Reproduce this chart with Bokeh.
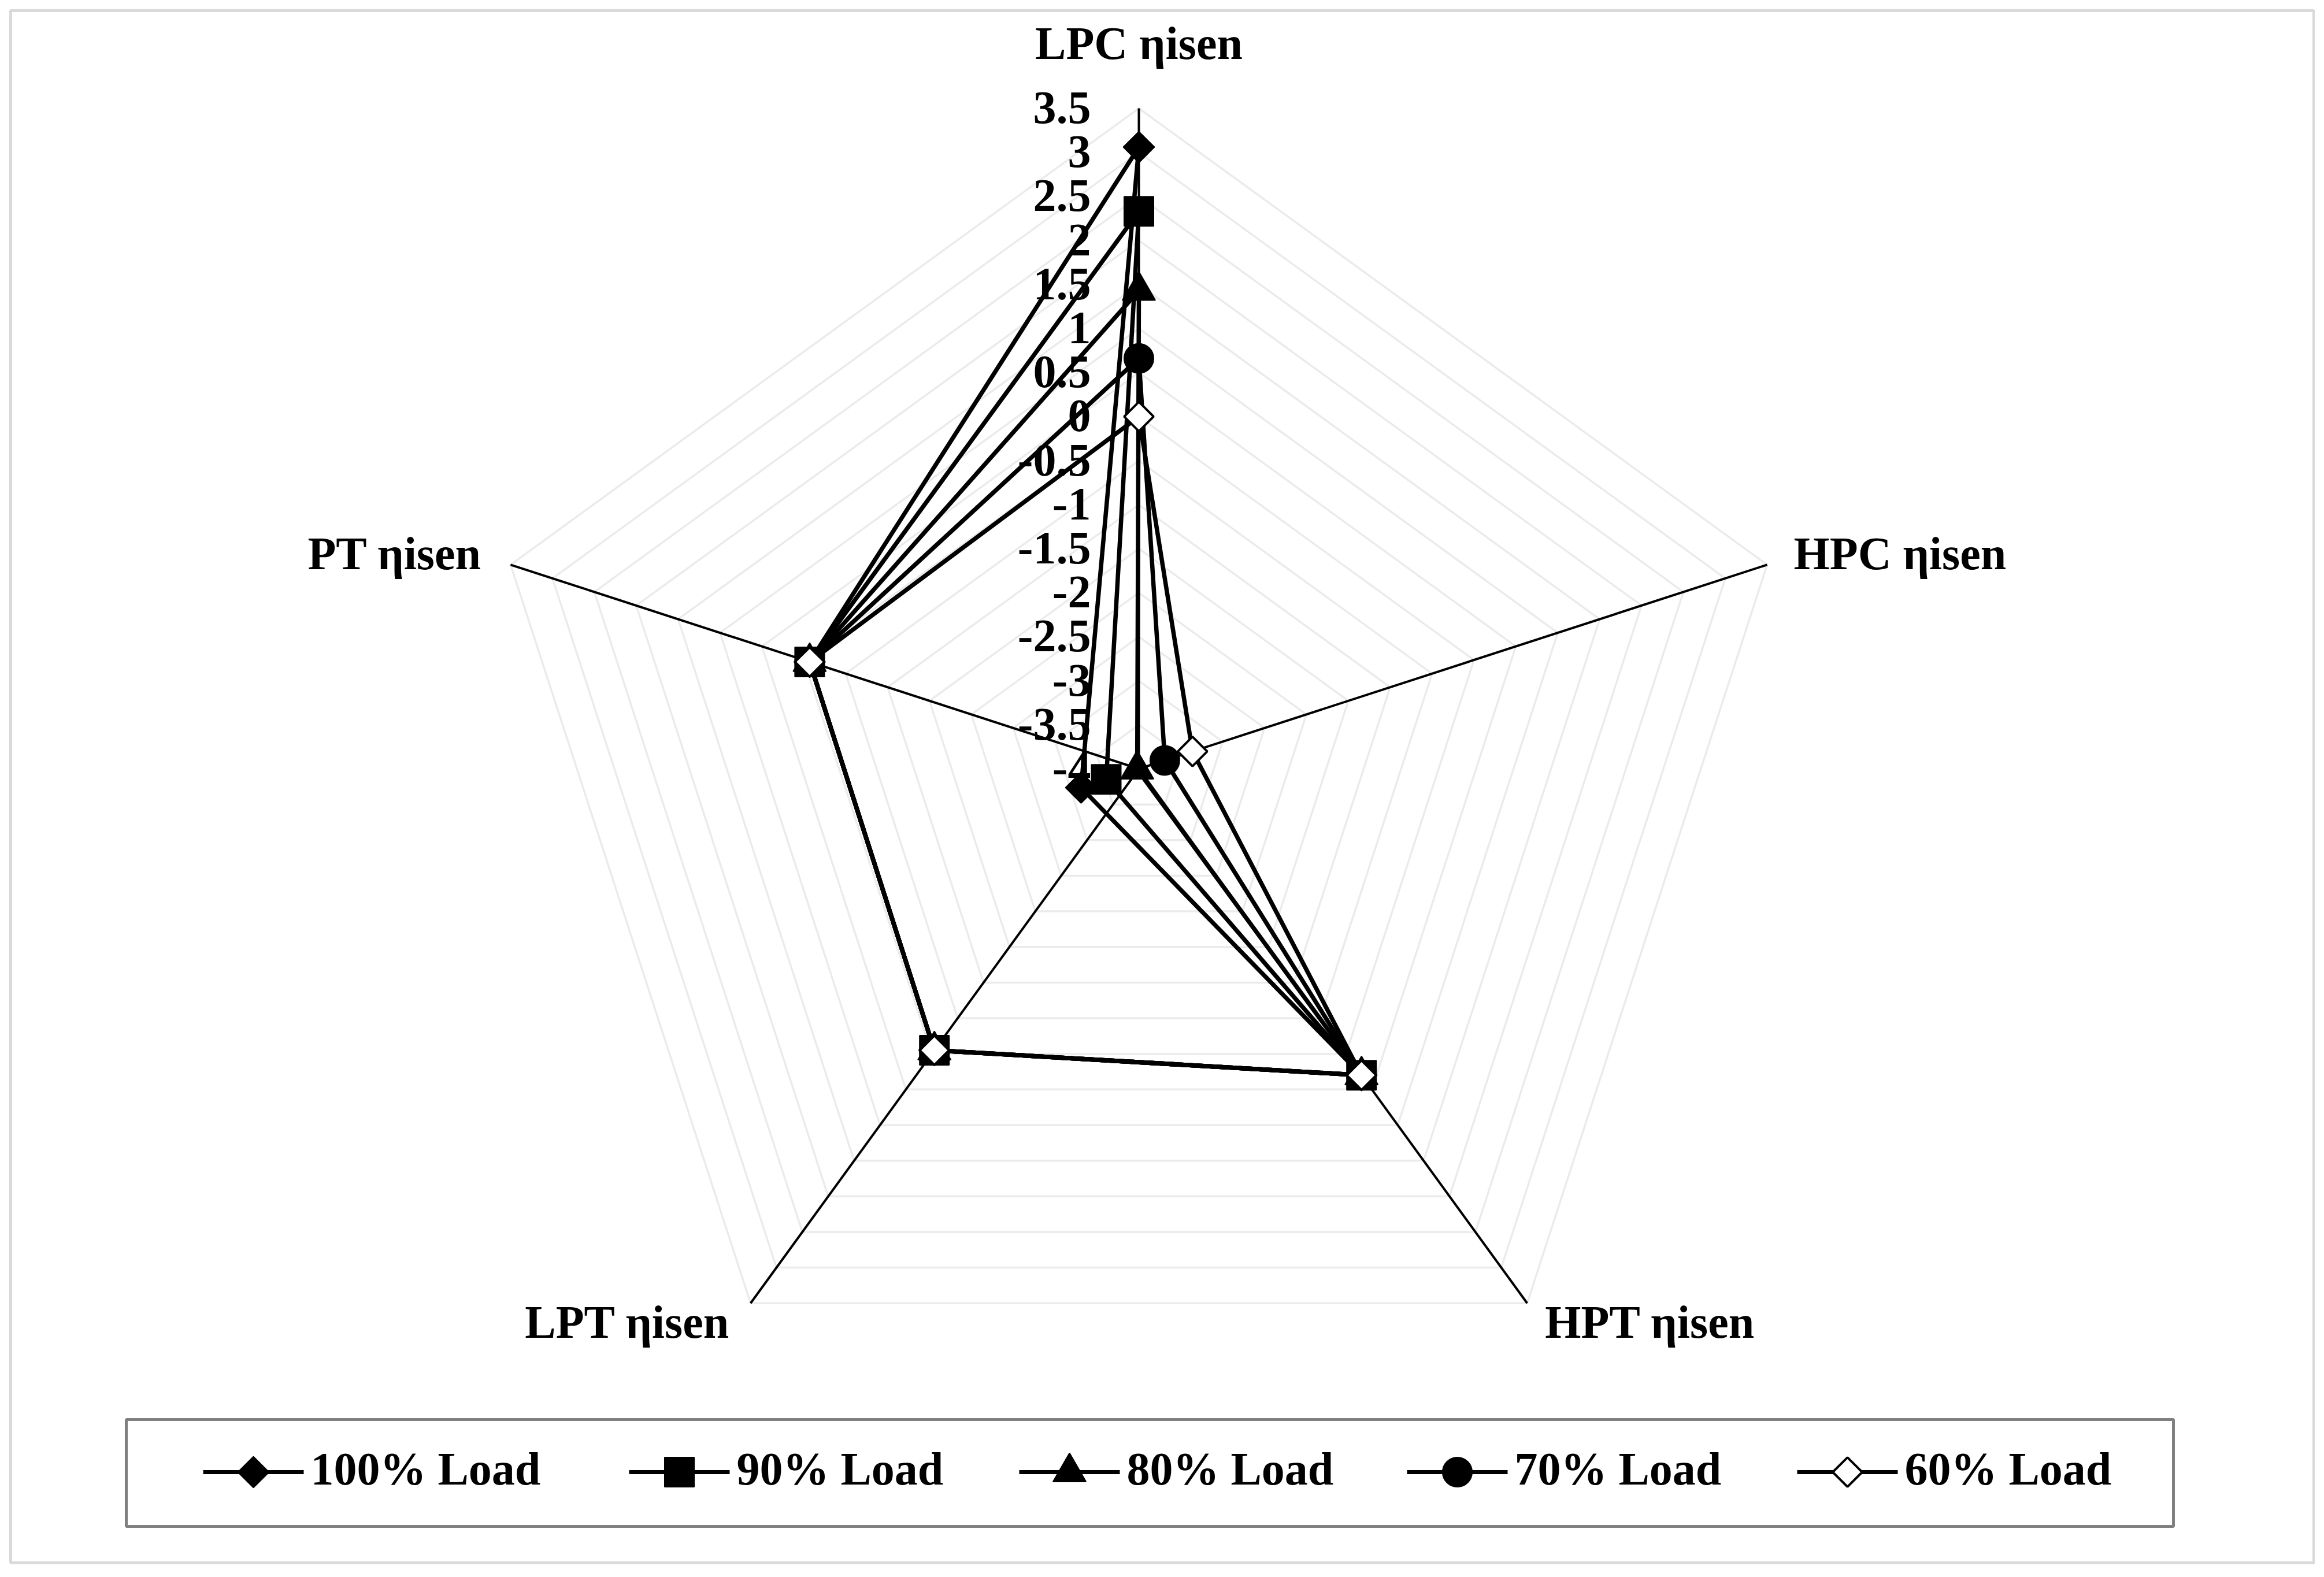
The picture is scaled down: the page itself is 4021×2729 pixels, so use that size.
import numpy as np
from bokeh.plotting import figure
from bokeh.models import Range1d
from bokeh.embed import file_html
from bokeh.resources import INLINE
from bokeh.core.properties import value

# ---------------- data ----------------
categories = ["LPC ηisen", "HPC ηisen", "HPT ηisen", "LPT ηisen", "PT ηisen"]
series_names = ["100% Load", "90% Load", "80% Load", "70% Load", "60% Load"]
load_100 = [3.06, -4.69, 0.30, -0.05, -0.07]
load_90 = [2.33, -4.39, 0.30, -0.05, -0.07]
load_80 = [1.43, -4.02, 0.30, -0.05, -0.07]
load_70 = [0.66, -3.69, 0.30, -0.05, -0.07]
load_60 = [0.00, -3.36, 0.30, -0.05, -0.07]
tick_values = [-4, -3.5, -3, -2.5, -2, -1.5, -1, -0.5, 0, 0.5, 1, 1.5, 2, 2.5, 3, 3.5]
tick_labels = ["-4", "-3.5", "-3", "-2.5", "-2", "-1.5", "-1", "-0.5", "0",
               "0.5", "1", "1.5", "2", "2.5", "3", "3.5"]
AXIS_MIN, AXIS_MAX = -4.0, 3.5

all_series = [load_100, load_90, load_80, load_70, load_60]

# ---------------- layout ----------------
W, H = 4005, 2713
CX, CY, RADIUS = 1970.0, 1330.0, 1143.0
FONT = value("Liberation Serif")
FS = "80px"
TDY = -29  # baseline correction for text

p = figure(width=W, height=H, output_backend="svg", toolbar_location=None,
           x_range=Range1d(0, W), y_range=Range1d(H, 0),
           min_border=0, outline_line_color=None)
p.axis.visible = False
p.grid.visible = False
p.background_fill_color = "white"
p.border_fill_color = "white"

n = len(categories)
angles = np.arange(n) * 2 * np.pi / n


def rad(v):
    return (np.asarray(v, dtype=float) - AXIS_MIN) / (AXIS_MAX - AXIS_MIN) * RADIUS


def to_xy(vals):
    r = rad(vals)
    return CX + r * np.sin(angles), CY - r * np.cos(angles)


# chart area border
p.quad(left=[18], right=[4003], top=[18], bottom=[2704], fill_color=None,
       line_color="#d9d9d9", line_width=5)

# gridlines (pentagons)
gx, gy = [], []
for t in tick_values[1:]:
    r = rad(t)
    xs = list(CX + r * np.sin(angles)) + [CX + r * np.sin(angles[0])]
    ys = list(CY - r * np.cos(angles)) + [CY - r * np.cos(angles[0])]
    gx.append(xs)
    gy.append(ys)
p.multi_line(gx, gy, line_color="#ebebeb", line_width=3.5)

# spokes
rmax = rad(AXIS_MAX)
p.segment(x0=[CX] * n, y0=[CY] * n, x1=list(CX + rmax * np.sin(angles)),
          y1=list(CY - rmax * np.cos(angles)), line_color="black", line_width=4)

# tick labels on the LPC axis
p.text(x=[CX - 83] * len(tick_values), y=list(CY - rad(tick_values) + 28 + TDY),
       text=tick_labels, text_align="right", text_baseline="alphabetic",
       text_font=FONT, text_font_size=FS, text_font_style="bold", text_color="black")

# category labels
vx, vy = CX + rmax * np.sin(angles), CY - rmax * np.cos(angles)
lab_dx = [0, 46, 31, -36, -50]
lab_dy = [-84, 10, 62, 62, 10]
lab_align = ["center", "left", "left", "right", "right"]
for i in range(n):
    p.text(x=[vx[i] + lab_dx[i]], y=[vy[i] + lab_dy[i] + TDY], text=[categories[i]],
           text_align=lab_align[i], text_baseline="alphabetic",
           text_font=FONT, text_font_size=FS, text_font_style="bold", text_color="black")

# marker styles
styles = [
    dict(marker="square", size=38, angle=np.pi / 4, fill_color="black", line_color="black", line_width=2),
    dict(marker="square", size=51, angle=0, fill_color="black", line_color="black", line_width=2),
    dict(marker="triangle", size=57, angle=0, fill_color="black", line_color="black", line_width=2),
    dict(marker="circle", size=51, angle=0, fill_color="black", line_color="black", line_width=2),
    dict(marker="square", size=36, angle=np.pi / 4, fill_color="white", line_color="black", line_width=4),
]

for vals, st in zip(all_series, styles):
    x, y = to_xy(vals)
    p.line(list(x) + [x[0]], list(y) + [y[0]], line_color="black", line_width=7.5,
           line_join="round")
    p.scatter(list(x), list(y), **st)

# legend (manual)
p.quad(left=[218], right=[3760], top=[2456], bottom=[2641], fill_color="white",
       line_color="#808080", line_width=5)
leg_x0 = [351, 1088, 1763, 2434, 3109]
leg_len = 174
leg_y = 2547
for i, (name, st) in enumerate(zip(series_names, styles)):
    x0 = leg_x0[i]
    p.line([x0, x0 + leg_len], [leg_y, leg_y], line_color="black", line_width=7)
    p.scatter([x0 + leg_len / 2], [leg_y], **st)
    p.text(x=[x0 + leg_len + 12], y=[2570 + TDY], text=[name], text_align="left",
           text_baseline="alphabetic", text_font=FONT, text_font_size=FS,
           text_font_style="bold", text_color="black")

open("out.html", "w").write(file_html(p, INLINE))
